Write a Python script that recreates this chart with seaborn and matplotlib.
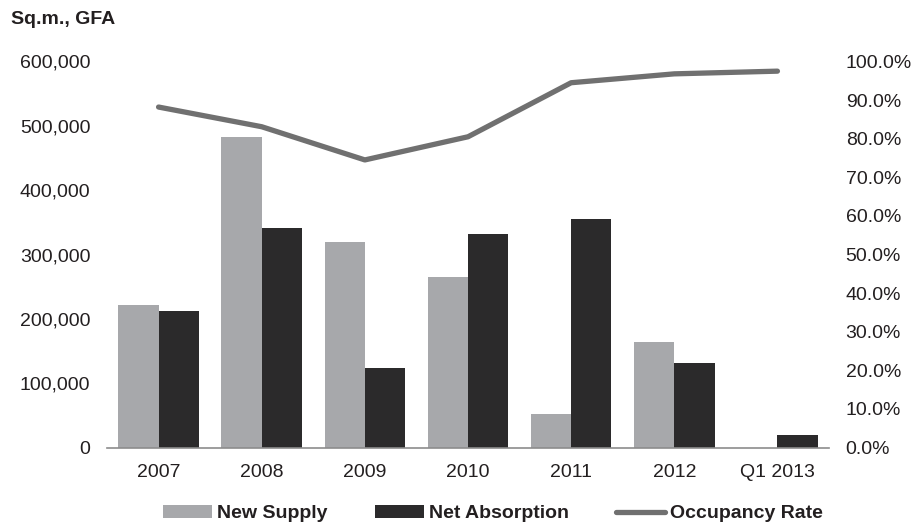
import numpy as np
import pandas as pd
import matplotlib
matplotlib.use("Agg")
import matplotlib.pyplot as plt
from matplotlib.patches import Patch
from matplotlib.lines import Line2D
from matplotlib.ticker import FuncFormatter, FixedLocator
import seaborn as sns

# Office market supply / absorption (sq.m. GFA) and occupancy
periods = ["2007", "2008", "2009", "2010", "2011", "2012", "Q1 2013"]
new_supply = [221000, 483000, 319000, 265000, 52000, 164000, 0]
net_absorption = [212000, 341000, 124000, 332000, 355000, 131000, 19000]
occupancy_rate = [88.2, 83.1, 74.5, 80.5, 94.5, 96.8, 97.5]

LIGHT = "#a7a8ab"
DARK = "#2b2a2b"
LINE = "#707070"
TEXT = "#231f20"

sns.set_theme(style="white")
plt.rcParams["font.family"] = ["Liberation Sans", "DejaVu Sans"]
plt.rcParams["text.color"] = TEXT

df = pd.DataFrame({
    "period": periods * 2,
    "value": new_supply + net_absorption,
    "series": ["New Supply"] * len(periods) + ["Net Absorption"] * len(periods),
})

fig = plt.figure(figsize=(9.17, 5.24), dpi=100)
ax = fig.add_axes([107 / 917, 1 - 447.5 / 524, (829 - 107) / 917, (447.5 - 61.5) / 524])

sns.barplot(data=df, x="period", y="value", hue="series", order=periods,
            palette=[LIGHT, DARK], width=0.78, saturation=1, ax=ax, legend=False,
            linewidth=0, edgecolor="none")

ax.set_xlim(-0.5, len(periods) - 0.5)
ax.set_ylim(0, 600000)
ax.set_yticks(np.arange(0, 600001, 100000))
ax.yaxis.set_major_formatter(FuncFormatter(lambda v, p: f"{int(v):,}"))
ax.set_xlabel("")
ax.set_ylabel("")

for s in ["top", "left", "right"]:
    ax.spines[s].set_visible(False)
ax.spines["bottom"].set_color("#8c8c8c")
ax.spines["bottom"].set_linewidth(1.2)

ax.tick_params(axis="y", length=0, pad=12, labelsize=14, labelcolor=TEXT)
ax.tick_params(axis="x", which="major", length=0, pad=12, labelsize=14, labelcolor=TEXT)
ax.xaxis.set_minor_locator(FixedLocator(np.arange(-0.5, len(periods), 1.0)))
ax.tick_params(axis="x", which="minor", length=5, width=1.2, color="#8c8c8c", direction="out")

# Occupancy rate on the secondary axis
ax2 = ax.twinx()
sns.lineplot(x=np.arange(len(periods)), y=occupancy_rate, ax=ax2, color=LINE,
             linewidth=3.8, sort=False, solid_capstyle="round")
ax2.set_ylim(0, 100)
ax2.set_yticks(np.arange(0, 101, 10))
ax2.yaxis.set_major_formatter(FuncFormatter(lambda v, p: f"{v:.1f}%"))
ax2.tick_params(axis="y", length=0, pad=12, labelsize=14, labelcolor=TEXT)
for s in ["top", "left", "right", "bottom"]:
    ax2.spines[s].set_visible(False)
ax2.set_xlim(-0.5, len(periods) - 0.5)

fig.text(11 / 917, 1 - 20 / 524, "Sq.m., GFA", ha="left", va="center",
         fontsize=14, fontweight="bold", color=TEXT)

handles = [
    Patch(facecolor=LIGHT, edgecolor="none", label="New Supply"),
    Patch(facecolor=DARK, edgecolor="none", label="Net Absorption"),
    Line2D([0], [0], color=LINE, linewidth=3.8, label="Occupancy Rate"),
]
fig.legend(handles=handles, loc="center", bbox_to_anchor=(493 / 917, 1 - 513.5 / 524),
           ncol=3, frameon=False, borderpad=0, handlelength=2.5, handleheight=0.62,
           handletextpad=0.25, columnspacing=2.45,
           prop={"size": 14, "weight": "bold"})

fig.savefig("out.png", dpi=100)
